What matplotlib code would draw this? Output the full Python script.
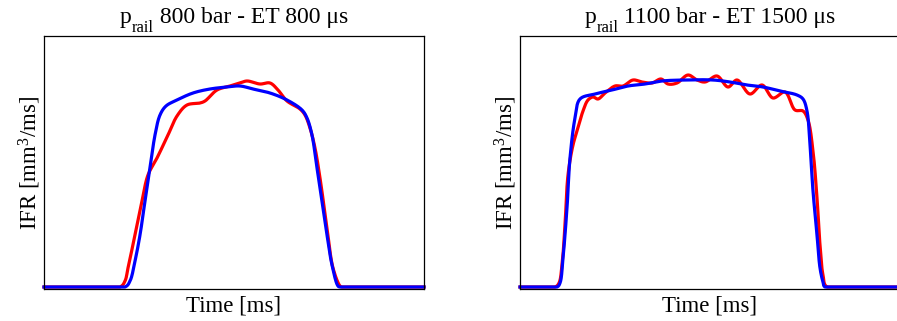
import numpy as np
import matplotlib
matplotlib.use("Agg")
import matplotlib.pyplot as plt

plt.rcParams['font.family'] = ['Liberation Serif', 'DejaVu Serif']
plt.rcParams['mathtext.fontset'] = 'custom'
plt.rcParams['mathtext.rm'] = 'Liberation Serif'
plt.rcParams['mathtext.it'] = 'Liberation Serif:italic'

# --- case 1: p_rail 800 bar, ET 800 us ---
t1_exp = [0, 0.76, 0.81, 0.84, 0.91, 0.98, 1.04, 1.13, 1.24, 1.33, 1.43, 1.56, 1.61,
          1.73, 1.86, 1.96, 2.03, 2.16, 2.26, 2.34, 2.43, 2.56, 2.61, 2.66, 2.71, 2.76,
          2.83, 2.89, 2.96, 2.98, 3.80]
q1_exp = [0, 0, 1.2, 3.8, 10.4, 17.2, 22.4, 25.8, 30.4, 34.2, 36.4, 36.8, 37.2,
          39.4, 40.2, 40.8, 41.2, 40.6, 40.8, 39.4, 37.2, 35.6, 34.4, 31.8, 27.8, 21.8,
          11.8, 3.8, 0.2, 0, 0]
t1_sim = [0, 0.81, 0.86, 0.91, 0.96, 1.01, 1.06, 1.11, 1.16, 1.22, 1.33, 1.49, 1.66,
          1.83, 1.96, 2.09, 2.26, 2.43, 2.58, 2.63, 2.68, 2.73, 2.78, 2.83, 2.88, 2.94,
          2.96, 3.80]
q1_sim = [0, 0, 1.2, 5.2, 10.4, 17.2, 23.8, 30.4, 34.4, 36.2, 37.4, 38.8, 39.6,
          40.0, 40.2, 39.6, 38.8, 37.4, 35.4, 33.8, 30.4, 23.8, 17.2, 10.4, 4.4, 0.2,
          0, 0]

# --- case 2: p_rail 1100 bar, ET 1500 us ---
t2_exp = [0, 0.35, 0.39, 0.42, 0.45, 0.48, 0.53, 0.58, 0.63, 0.68, 0.73, 0.78, 0.85,
          0.95, 1.03, 1.13, 1.22, 1.32, 1.41, 1.48, 1.57, 1.68, 1.77, 1.85, 1.97, 2.08,
          2.17, 2.30, 2.42, 2.53, 2.65, 2.75, 2.83, 2.88, 2.93, 2.97, 3.00, 3.03, 3.07,
          3.80]
q2_exp = [0, 0, 0.8, 4.4, 12.4, 22.4, 28.4, 31.8, 35.2, 37.4, 38.0, 37.6, 38.8,
          40.2, 40.2, 41.4, 41.0, 40.8, 41.6, 40.6, 40.8, 42.4, 41.4, 41.0, 42.2, 40.0,
          41.4, 38.6, 40.4, 37.8, 39.0, 35.4, 35.2, 33.4, 27.2, 17.8, 8.4, 2.4, 0,
          0]
t2_sim = [0, 0.37, 0.40, 0.43, 0.47, 0.50, 0.55, 0.60, 0.75, 0.92, 1.08, 1.25, 1.42,
          1.65, 1.93, 2.10, 2.27, 2.43, 2.60, 2.77, 2.83, 2.87, 2.90, 2.93, 2.97, 3.00,
          3.03, 3.05, 3.80]
q2_sim = [0, 0, 0.8, 5.8, 15.8, 25.8, 33.8, 37.6, 38.6, 39.4, 40.2, 40.6, 41.2,
          41.4, 41.4, 41.0, 40.4, 40.0, 39.2, 38.4, 37.6, 35.2, 28.4, 19.2, 10.4, 3.8,
          1.0, 0, 0]

title_sub = 'rail'
title_main = [' 800 bar - ET 800 μs', ' 1100 bar - ET 1500 μs']


def catmull(x, y, n=16, scale=(100.0, 5.0)):
    # centripetal catmull-rom through the read points, just for drawing
    P = np.column_stack([x, y]) * np.array(scale)
    P = np.vstack([2 * P[0] - P[1], P, 2 * P[-1] - P[-2]])
    out = []
    for i in range(1, len(P) - 2):
        p0, p1, p2, p3 = P[i - 1], P[i], P[i + 1], P[i + 2]
        s0 = 0.0
        s1 = s0 + np.linalg.norm(p1 - p0) ** 0.5
        s2 = s1 + np.linalg.norm(p2 - p1) ** 0.5
        s3 = s2 + np.linalg.norm(p3 - p2) ** 0.5
        s = np.linspace(s1, s2, n, endpoint=False)[:, None]
        a1 = (s1 - s) / (s1 - s0) * p0 + (s - s0) / (s1 - s0) * p1
        a2 = (s2 - s) / (s2 - s1) * p1 + (s - s1) / (s2 - s1) * p2
        a3 = (s3 - s) / (s3 - s2) * p2 + (s - s2) / (s3 - s2) * p3
        b1 = (s2 - s) / (s2 - s0) * a1 + (s - s0) / (s2 - s0) * a2
        b2 = (s3 - s) / (s3 - s1) * a2 + (s - s1) / (s3 - s1) * a3
        out.append((s2 - s) / (s2 - s1) * b1 + (s - s1) / (s2 - s1) * b2)
    out.append(P[-2][None, :])
    C = np.vstack(out) / np.array(scale)
    return C[:, 0], np.maximum(C[:, 1], 0)


W, H = 897, 321
fig = plt.figure(figsize=(W / 100, H / 100), dpi=100)
ax1 = fig.add_axes([44 / W, 32 / H, 380 / W, 253 / H])
ax2 = fig.add_axes([520 / W, 32 / H, 380 / W, 253 / H])

cases = [(ax1, t1_exp, q1_exp, t1_sim, q1_sim),
         (ax2, t2_exp, q2_exp, t2_sim, q2_sim)]

fs = 17
title_parts = []
for i, (ax, te, qe, ts, qs) in enumerate(cases):
    xe, ye = catmull(te, qe)
    xs, ys = catmull(ts, qs)
    ax.plot(xe, ye, color='#ff0000', lw=2.3, solid_joinstyle='round', clip_on=False)
    ax.plot(xs, ys, color='#0000ff', lw=2.3, solid_joinstyle='round', clip_on=False)
    ax.set_xlim(0, 3.8)
    ax.set_ylim(-0.4, 50.2)
    ax.set_xticks([])
    ax.set_yticks([])
    for s in ax.spines.values():
        s.set_linewidth(0.9)
    ax.set_xlabel('Time [ms]', fontsize=16.5, labelpad=5)
    ax.set_ylabel(r'IFR [mm$^{3}$/ms]', fontsize=16.5, labelpad=1)

    # title: p with a lowered "rail" subscript, then the rest
    tp = ax.annotate('p', xy=(0.5, 1), xycoords='axes fraction', xytext=(0, 6),
                     textcoords='offset points', fontsize=fs, ha='left', va='bottom')
    tsub = ax.annotate(title_sub, xy=(1, 0), xycoords=tp, xytext=(0.3, -3.2),
                       textcoords='offset points', fontsize=fs * 0.7, ha='left', va='baseline')
    tm = ax.annotate(title_main[i], xy=(1, 0), xycoords=(tsub, tp), xytext=(0, 0),
                     textcoords='offset points', fontsize=fs, ha='left', va='bottom')
    title_parts.append((ax, tp, tsub, tm))

# centre each composed title over its axes
fig.canvas.draw()
r = fig.canvas.get_renderer()
for ax, tp, tsub, tm in title_parts:
    x0 = tp.get_window_extent(r).x0
    x1 = tm.get_window_extent(r).x1
    bb = ax.get_window_extent(r)
    shift = (bb.x0 + bb.x1) / 2 - (x0 + x1) / 2
    tp.set_position((shift * 72 / fig.dpi, 6))

fig.savefig('out.png', dpi=100)
